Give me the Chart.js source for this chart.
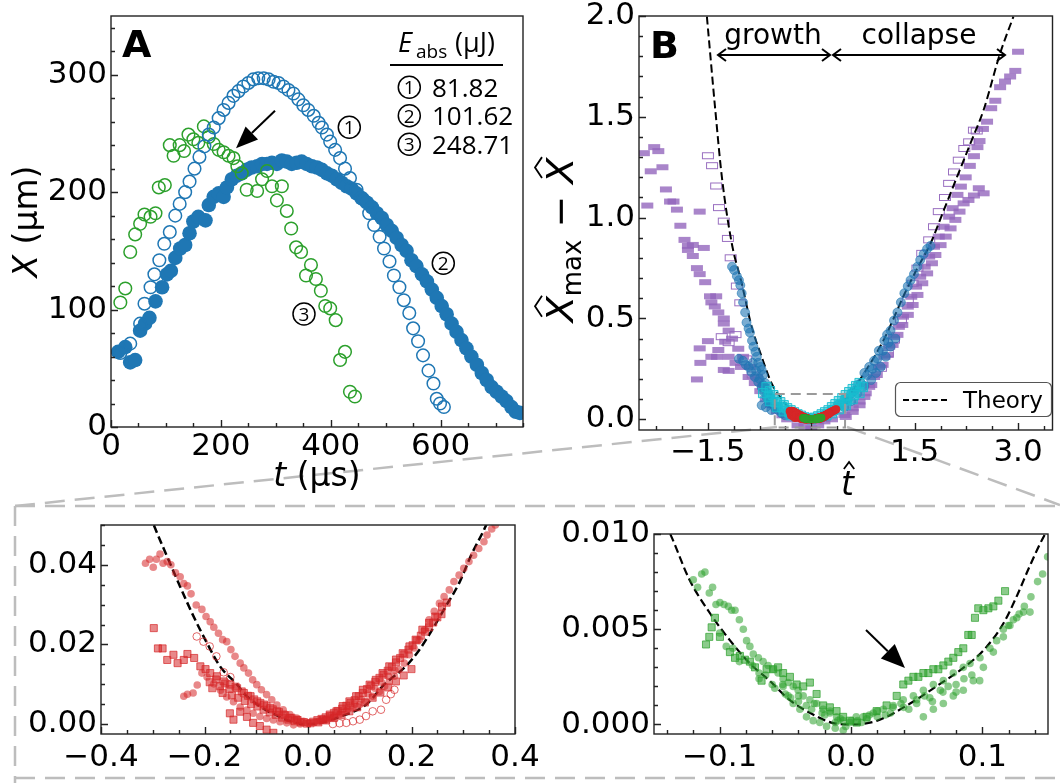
<!DOCTYPE html>
<html>
<head>
<meta charset="utf-8">
<script src="https://cdn.jsdelivr.net/npm/chart.js@4.4.1/dist/chart.umd.min.js"></script>
<style>
    body { margin: 0; background: #fff; }
    #fig { position: relative; width: 1060px; height: 783px; overflow: hidden; }
    #fig canvas { position: absolute; left: 0; top: 0; }
</style>
</head>
<body>
<div id="fig">
    <canvas id="bg" width="1060" height="783"></canvas>
    <canvas id="cA" width="1060" height="783"></canvas>
    <canvas id="cB" width="1060" height="783"></canvas>
    <canvas id="cC" width="1060" height="783"></canvas>
    <canvas id="cD" width="1060" height="783"></canvas>
</div>
<script>
// ---- Panel A: bubble radius X (um) vs time t (us) ----
const tA1 = [17,35,53,61,72,79,88,97,107,117,125,135,143,152,161,170,178,187,196,205,214,223,232,241,250,259,268,278,287,296,305,314,323,332,341,350,359,369,378,384,393,399,408,417,426,435,447,459,470,479,489,497,507,515,525,533,543,550,559,568,578,587,593,599,606];
const xA1 = [63,71,88,105,119,130,142,156,166,180,190,200,209,220,230,239,249,255,263,270,276,282,286,290,293,296,297,297,296,294,293,290,287,284,279,274,270,265,259,255,249,243,236,229,220,212,202,194,182,172,162,152,141,129,119,108,97,84,73,61,48,37,24,20,17];
const tA2 = [13,26,35,44,53,62,70,81,93,102,109,117,126,135,143,150,159,172,178,187,196,205,211,220,229,238,247,256,266,275,284,293,302,311,320,329,338,347,356,366,375,384,393,402,411,420,429,438,447,456,466,475,484,493,502,511,520,529,538,547,556,566,575,584,593,602,611,620,629,638,647,656,666,675,684,693,702,711,720,729,737,744];
const xA2 = [64,68,55,57,82,88,93,107,119,130,133,144,152,155,165,175,179,176,189,196,199,196,204,211,214,216,219,221,222,224,224,225,224,227,226,224,225,226,224,222,221,219,216,214,211,208,205,203,199,195,191,187,182,178,172,167,161,155,150,142,137,130,124,117,110,103,96,88,81,74,67,60,53,46,40,34,30,26,22,17,13,12];
const tA3 = [17,26,35,44,53,61,72,81,87,98,107,114,125,133,141,150,159,169,178,187,196,205,214,223,230,238,247,266,275,284,293,302,311,320,328,337,346,355,364,373,382,390,399,409,417,426,435,444];
const xA3 = [106,118,149,164,173,181,179,182,204,206,240,231,240,235,249,245,242,256,247,241,236,234,231,229,222,216,202,201,211,218,205,193,205,184,169,153,149,129,138,126,116,103,101,91,57,64,30,26];
const energies = ['81.82', '101.62', '248.71'];

const thT = [-1.515,-1.393,-1.298,-1.154,-1.01,-0.865,-0.72,-0.577,-0.45,-0.38,-0.298,-0.272,-0.247,-0.221,-0.195,-0.170,-0.137,-0.123,-0.107,-0.092,-0.077,-0.062,-0.047,-0.031,-0.015,0,0.02,0.045,0.065,0.086,0.101,0.116,0.126,0.136,0.147,0.189,0.215,0.240,0.266,0.292,0.317,0.343,0.50,0.77,1.06,1.35,1.54,1.731,1.924,2.116,2.31,2.50,2.74,2.933];
const thV = [1.997,1.534,1.203,0.873,0.675,0.459,0.31,0.179,0.11,0.078,0.050,0.042,0.0345,0.027,0.0203,0.0145,0.0099,0.0076,0.0058,0.0044,0.0032,0.0023,0.0013,0.0006,0.0001,0,0.0002,0.0011,0.0020,0.0030,0.0039,0.0053,0.0067,0.0083,0.0099,0.0145,0.0186,0.0237,0.0295,0.0354,0.0429,0.0496,0.10,0.23,0.40,0.62,0.75,0.873,1.038,1.203,1.369,1.534,1.815,1.997];

// ---- Panel B: normalised data ----
const pfT = [-2.43,-2.28,-2.22,-2.33,-2.16,-2.11,-2.05,-2.00,-1.95,-2.38,-1.62,-1.90,-1.84,-1.79,-1.72,-1.56,-1.79,-1.72,-1.66,-1.62,-1.54,-1.47,-1.38,-1.45,-1.40,-1.35,-1.27,-1.27,-1.20,-1.15,-1.06,-0.99,-0.89,-0.79,-0.70,-0.61,-0.51,-0.41,-0.29,
    -1.66,-1.61,-1.62,-1.50,-1.45,-1.37,-1.27,-1.20,-1.20,-1.35,-1.25,-1.10,-1.02,-0.91,-0.82,-0.74,-0.66,-0.58,-0.50,-0.42,-0.35,
    -0.2,-0.1,0.0,0.1,0.19,0.3,
    3.0,2.96,2.885,2.81,2.74,2.67,2.61,2.55,2.49,2.44,2.41,2.36,2.30,2.24,2.17,2.12,2.05,2.0,1.92,1.85,1.78,1.71,1.645,1.58,1.52,1.45,1.40,1.33,1.27,1.20,1.13,1.06,0.985,0.91,0.84,0.77,0.70,0.60,0.50,
    2.50,2.43,2.36,2.28,2.21,2.15,2.09,2.02,1.95,1.875,1.80,1.75,1.68,1.61,1.54,1.47,1.40,1.32,1.25,1.18,1.11,1.035,0.95,0.87,0.79,0.70,0.60,0.48];
const pfV = [1.32,1.35,1.33,1.23,1.25,1.14,1.08,1.08,1.04,1.06,1.03,0.96,0.89,0.86,0.865,0.85,0.84,0.81,0.75,0.72,0.68,0.61,0.61,0.58,0.56,0.53,0.50,0.475,0.44,0.40,0.35,0.31,0.26,0.21,0.16,0.11,0.07,0.04,0.015,
    0.198,0.28,0.352,0.388,0.31,0.31,0.245,0.24,0.31,0.344,0.385,0.28,0.26,0.21,0.18,0.14,0.10,0.07,0.04,0.02,0.0,
    -0.03,-0.035,-0.045,-0.03,-0.01,0.0,
    1.823,1.728,1.70,1.675,1.647,1.58,1.543,1.476,1.44,1.38,1.35,1.305,1.257,1.20,1.154,1.113,1.047,1.005,0.955,0.906,0.856,0.807,0.757,0.707,0.658,0.608,0.559,0.509,0.459,0.409,0.36,0.31,0.26,0.21,0.161,0.111,0.07,0.037,0.012,
    1.121,1.146,1.11,1.088,1.071,1.03,0.989,0.947,0.906,0.864,0.815,0.774,0.724,0.675,0.617,0.567,0.518,0.468,0.419,0.369,0.319,0.27,0.22,0.17,0.129,0.088,0.055,0.022];
const poT = [-1.50,-1.44,-1.38,-1.34,-1.27,-1.21,-1.17,-1.08,-1.03,-1.30,-1.20,-1.10,-0.95,-0.85,
    1.01,1.11,1.20,1.30,1.40,1.47,1.54,1.61,1.71,1.78,1.85,1.94,2.0,2.07,2.14,2.22,2.29,2.36,2.40];
const poV = [1.307,1.258,1.157,1.05,0.983,0.897,0.801,0.661,0.578,0.41,0.38,0.42,0.30,0.22,
    0.253,0.327,0.393,0.493,0.592,0.675,0.75,0.823,0.89,0.955,1.03,1.10,1.17,1.227,1.285,1.343,1.376,1.434,1.43];
const bcT = [-1.15,-1.12,-1.08,-1.05,-1.03,-1.01,-0.99,-0.96,-0.94,-0.91,-0.89,-0.86,-0.84,-0.81,-0.79,-0.77,-0.74,-0.72,-0.70,-0.67,-0.65,-0.62,-0.60,-0.58,-0.53,-0.48,-0.43,-0.38,
    -1.05,-0.99,-0.95,-0.91,-0.87,-0.82,-0.77,-0.72,-0.68,-0.65,-0.61,-0.58,-0.66,-0.72,
    0.19,0.29,0.38,0.48,0.58,0.67,0.77,0.84,0.91,0.98,1.06,1.10,1.15,1.20,1.25,1.30,1.35,1.40,1.44,1.49,1.54,1.58,1.63,1.68,1.73,
    0.48,0.58,0.67,0.77,0.87,0.94,1.01,1.08,1.15,1.22,
    0.33,0.43,0.53,0.62,0.72,0.81,0.89,0.96,1.04,1.12,-0.85,-0.80,-0.75,-0.70,-0.64,-0.56,-0.50];
const bcV = [0.757,0.74,0.71,0.69,0.665,0.625,0.58,0.53,0.48,0.45,0.43,0.39,0.36,0.335,0.31,0.28,0.26,0.245,0.22,0.18,0.155,0.13,0.105,0.08,0.06,0.046,0.03,0.02,
    0.30,0.29,0.27,0.26,0.235,0.21,0.185,0.16,0.135,0.11,0.08,0.046,0.06,0.07,
    0.013,0.04,0.07,0.10,0.13,0.17,0.23,0.26,0.29,0.34,0.39,0.42,0.44,0.49,0.53,0.58,0.625,0.66,0.69,0.72,0.757,0.79,0.82,0.845,0.86,
    0.06,0.09,0.13,0.165,0.195,0.23,0.26,0.31,0.36,0.40,
    0.04,0.07,0.10,0.14,0.18,0.22,0.25,0.30,0.34,0.38,0.28,0.24,0.20,0.17,0.13,0.09,0.06];
const cyT = [-0.65,-0.6,-0.55,-0.5,-0.45,-0.4,-0.35,-0.3,-0.25,-0.2,-0.15,-0.1,-0.05,0,0.05,0.1,0.15,0.2,0.25,0.3,0.35,0.4,0.45,0.5,0.55,0.6,0.65,0.7,
    -0.6,-0.5,-0.4,-0.3,0.3,0.4,0.5,0.6,0.7,
    -0.7,-0.62,-0.52,-0.42,-0.32,-0.22,0.22,0.32,0.42,0.52,0.62,0.75];
const cyV = [0.16,0.14,0.12,0.10,0.085,0.07,0.055,0.045,0.035,0.025,0.018,0.01,0.005,0.0,0.008,0.015,0.025,0.035,0.045,0.06,0.075,0.09,0.105,0.12,0.135,0.15,0.165,0.18,
    0.09,0.06,0.04,0.02,0.03,0.05,0.07,0.10,0.13,
    0.13,0.11,0.085,0.06,0.035,0.015,0.02,0.045,0.07,0.095,0.12,0.16];

// ---- Panel C: red subset (zoom) ----
const rcT = [-0.314,-0.306,-0.299,-0.293,-0.286,-0.280,-0.272,-0.265,-0.256,-0.247,-0.240,-0.233,-0.226,-0.216,-0.205,-0.197,-0.189,-0.182,-0.173,-0.165,-0.157,-0.149,-0.141,-0.131,-0.124,-0.115,-0.107,-0.099,-0.090,-0.080,-0.070,-0.060,-0.048,-0.035,-0.022,-0.009,0.003,0.022,0.035,0.048,0.061,0.074,0.087,0.100,0.112,0.125,0.138,0.148,0.157,0.167,0.176,0.186,0.196,0.205,0.215,0.225,0.234,0.244,0.254,0.263,0.273,0.282,0.292,0.301,0.311,0.320,0.330,0.340,0.346,0.355,0.362];
const rcV = [0.0404,0.0414,0.0394,0.0414,0.0427,0.0404,0.0408,0.0400,0.0380,0.0370,0.0353,0.0347,0.0327,0.0299,0.0288,0.0270,0.0257,0.0243,0.0228,0.0212,0.0207,0.0187,0.0170,0.0153,0.0141,0.0128,0.0111,0.0099,0.0086,0.0074,0.0061,0.0048,0.0036,0.0024,0.0015,0.0007,0.0003,0.0007,0.0011,0.0015,0.0024,0.0032,0.0040,0.0049,0.0057,0.0070,0.0082,0.0095,0.0107,0.0120,0.0137,0.0153,0.0174,0.0191,0.0212,0.0237,0.0262,0.0283,0.0303,0.0320,0.0337,0.0358,0.0374,0.0391,0.0408,0.0424,0.0441,0.0458,0.0475,0.0490,0.0500];
const rsT = [-0.298,-0.290,-0.281,-0.272,-0.260,-0.252,-0.240,-0.233,-0.220,-0.208,-0.198,-0.189,-0.176,-0.163,-0.150,-0.137,-0.124,-0.111,-0.098,-0.085,-0.073,-0.060,-0.047,-0.035,-0.022,
    -0.151,-0.144,-0.131,-0.118,-0.106,-0.093,-0.080,-0.067,
    0.029,0.042,0.055,0.067,0.080,0.093,0.106,0.119,0.131,0.144,0.157,0.170,0.183,0.196,0.208,0.221,0.234,0.246,0.259,0.268];
const rsV = [0.0241,0.0190,0.0190,0.0161,0.0174,0.0153,0.0161,0.0176,0.0166,0.0145,0.0138,0.0128,0.0120,0.0107,0.0099,0.0090,0.0078,0.0070,0.0057,0.0049,0.0040,0.0032,0.0024,0.0015,0.0011,
    0.0027,0.0011,0.0031,0.0018,0.0003,-0.0005,-0.0014,-0.0022,
    0.0011,0.0020,0.0032,0.0045,0.0057,0.0070,0.0086,0.0099,0.0111,0.0128,0.0145,0.0162,0.0178,0.0195,0.0212,0.0237,0.0254,0.0270,0.0295,0.0305];
const rlT = [-0.240,-0.233,-0.222,-0.214,-0.205,-0.195,-0.182,-0.169,-0.157,-0.144,-0.131,-0.118,-0.106,-0.093,-0.080,-0.067,-0.054,-0.041,-0.028,-0.015,0.000,0.012,0.025,0.038,0.051,0.064,0.077,0.090,0.103,0.116,0.129,0.142,0.155,0.168];
const rlV = [0.0070,0.0075,0.0078,0.0098,0.0128,0.0118,0.0101,0.0085,0.0068,0.0056,0.0043,0.0035,0.0027,0.0019,0.0014,0.0010,0.0006,0.0003,-0.0002,0.0000,0.0002,0.0004,0.0008,0.0013,0.0020,0.0028,0.0038,0.0050,0.0062,0.0076,0.0090,0.0105,0.0120,0.0135];
const rmT = [-0.190,-0.185,-0.178,-0.170,-0.165,-0.160,-0.152,-0.147,-0.140,-0.135,-0.128,-0.122,-0.116,-0.110,-0.104,-0.098,-0.092,-0.086,-0.080,-0.074,-0.068,-0.062,-0.056,-0.050,-0.044,-0.038,-0.032,-0.026,-0.020,-0.014,-0.008,-0.002,
    0.010,0.018,0.026,0.034,0.042,0.050,0.058,0.066,0.074,0.082,0.090,0.098,0.106,0.114,0.122,0.130,0.138,0.146,0.154,0.162,0.170,0.178,0.186,0.194,0.202,0.210,0.218,0.226,0.234,0.242,0.250,0.258,
    0.005,0.020,0.035,0.050,0.065,0.080,0.095,0.110,0.125,0.140,0.155,0.170,0.185,0.200];
const rmV = [0.0105,0.0090,0.0112,0.0095,0.0078,0.0102,0.0088,0.0072,0.0094,0.0066,0.0082,0.0058,0.0071,0.0050,0.0062,0.0044,0.0053,0.0036,0.0045,0.0029,0.0037,0.0023,0.0030,0.0016,0.0022,0.0011,0.0016,0.0007,0.0010,0.0004,0.0005,0.0001,
    0.0006,0.0010,0.0013,0.0017,0.0024,0.0028,0.0033,0.0039,0.0046,0.0053,0.0060,0.0070,0.0078,0.0088,0.0096,0.0106,0.0116,0.0124,0.0134,0.0143,0.0155,0.0166,0.0175,0.0187,0.0198,0.0210,0.0222,0.0232,0.0243,0.0255,0.0268,0.0276,
    0.0002,0.0004,0.0009,0.0015,0.0022,0.0032,0.0042,0.0054,0.0066,0.0079,0.0092,0.0107,0.0122,0.0138];
const roT = [-0.215,-0.202,-0.190,-0.177,-0.163,-0.150,0.048,0.061,0.074,0.087,0.100,0.112,0.125,0.141,0.151,0.160,0.167];
const roV = [0.0220,0.0207,0.0195,0.0170,0.0130,0.0118,0.0000,0.0002,0.0003,0.0007,0.0011,0.0020,0.0032,0.0036,0.0061,0.0075,0.0086];

// ---- Panel D: green subset (zoom) ----
const gcT = [-0.1201,-0.1168,-0.1137,-0.1112,-0.1079,-0.1054,-0.1028,-0.0998,-0.0967,-0.0934,-0.0909,-0.0883,-0.0850,-0.0820,-0.0795,-0.0770,-0.0744,-0.0705,-0.0669,-0.0631,-0.0593,-0.0555,-0.0517,-0.0478,-0.0440,-0.0402,-0.0364,-0.0313,-0.0262,-0.0212,-0.0161,-0.0110,-0.0059,-0.0008,
    0.0093,0.0170,0.0246,0.0322,0.0398,0.0475,0.0551,0.0627,0.0703,0.0779,0.0855,0.0906,0.0982,0.1058,0.1109,0.1160,0.1198,0.1236,0.1280,0.1320,0.1370,0.1421,0.1459,0.1497,
    -0.0517,-0.0478,-0.0440,-0.0389,-0.0339,-0.0288,-0.0237,-0.0186,-0.0120,-0.0059,0.0551,0.0627,0.0703,0.0779,0.0855,0.0931,0.1008,0.1084,0.1160,0.1210,0.1262,0.1313,0.1363,
    0.005,0.012,0.020,0.030,0.040,0.050,0.060,0.070,0.080,-0.070,-0.060,-0.050,-0.040,-0.030,-0.020,-0.010];
const gcV = [0.0076,0.0072,0.0079,0.0080,0.0069,0.0072,0.0063,0.0064,0.0063,0.0062,0.0060,0.0060,0.0055,0.0050,0.0044,0.0041,0.0037,0.0035,0.0033,0.0031,0.0029,0.0027,0.0024,0.0022,0.0020,0.0018,0.0015,0.0013,0.0011,0.0008,0.0006,0.0004,0.0002,0.0001,
    0.0004,0.0006,0.0008,0.0010,0.0013,0.0015,0.0018,0.0021,0.0023,0.0027,0.0030,0.0032,0.0035,0.0040,0.0044,0.0050,0.0052,0.0055,0.0058,0.0062,0.0067,0.0075,0.0079,0.0088,
    0.0020,0.0015,0.0011,0.0008,0.0004,0.0002,0.0001,-0.0001,-0.0002,-0.0003,0.0004,0.0008,0.0011,0.0015,0.0018,0.0023,0.0030,0.0038,0.0046,0.0052,0.0056,0.0059,0.0059,
    0.0002,0.0003,0.0004,0.0006,0.0009,0.0011,0.0014,0.0017,0.0021,0.0027,0.0021,0.0016,0.0012,0.0008,0.0005,0.0002];
const gmT = [-0.075,-0.070,-0.065,-0.058,-0.052,-0.046,-0.040,-0.034,-0.028,-0.022,-0.016,-0.012,-0.008,-0.004,0.000,0.004,0.008,0.014,0.020,0.026,0.032,0.038,0.044,0.050,0.056,0.062,0.068,0.074,0.080,0.086,0.092,0.098,-0.090,-0.085,-0.100,-0.095];
const gmV = [0.0031,0.0024,0.0026,0.0019,0.0021,0.0014,0.0015,0.0010,0.0011,0.0006,0.0007,0.0001,0.0003,-0.0001,0.0002,0.0004,0.0001,0.0005,0.0007,0.0005,0.0009,0.0011,0.0008,0.0013,0.0015,0.0012,0.0018,0.0020,0.0017,0.0024,0.0026,0.0023,0.0040,0.0033,0.0048,0.0041];
const gsT = [-0.1104,-0.1079,-0.1061,-0.1036,-0.0998,-0.0922,-0.0883,-0.0846,-0.0808,-0.0770,-0.0731,-0.0681,-0.0643,-0.0593,-0.0555,-0.0517,-0.0465,-0.0414,-0.0364,-0.0313,-0.0262,-0.0212,-0.0161,-0.0110,-0.0060,-0.0008,
    0.0043,0.0119,0.0195,0.0271,0.0348,0.0398,0.0437,0.0475,0.0513,0.0551,0.0589,0.0627,0.0665,0.0703,0.0741,0.0779,0.0817,0.0855,0.0893,0.0919,0.0944,0.0969,0.1008,0.1046,0.1084,0.1122,0.1173];
const gsV = [0.0042,0.0046,0.0051,0.0056,0.0046,0.0038,0.0035,0.0036,0.0034,0.0033,0.0030,0.0023,0.0029,0.0029,0.0030,0.0027,0.0025,0.0021,0.0020,0.0022,0.0016,0.0010,0.0009,0.0007,0.0004,0.0002,
    0.0001,0.0004,0.0007,0.0010,0.0015,0.0021,0.0023,0.0025,0.0025,0.0027,0.0027,0.0029,0.0029,0.0031,0.0033,0.0035,0.0038,0.0040,0.0047,0.0047,0.0056,0.0061,0.0060,0.0061,0.0062,0.0065,0.0070];

// ---- Tick values ----
const ticksAx = [0, 200, 400, 600], ticksAy = [0, 100, 200, 300];
const ticksBx = [-1.5, 0, 1.5, 3.0], ticksBy = [0, 0.5, 1.0, 1.5, 2.0];
const ticksCx = [-0.4, -0.2, 0, 0.2, 0.4], ticksCy = [0, 0.02, 0.04];
const ticksDx = [-0.1, 0, 0.1], ticksDy = [0, 0.005, 0.010];

const W = 1060, H = 783, YW = 95, XH = 45;
const DJ = '"DejaVu Sans", sans-serif';
const OS = '"Open Sans", "DejaVu Sans", sans-serif';
Chart.defaults.font.family = DJ;

const BLUE = '#1f77b4', GREEN = '#2ca02c';

function pts(xs, ys) {
    return xs.map((x, i) => ({ x: x, y: ys[i] }));
}

function fmt(v, dec) {
    return v.toFixed(dec).replace('-', '\u2212');
}

function rectMarker(w, h, fill, stroke) {
    const c = document.createElement('canvas');
    c.width = w + 2;
    c.height = h + 2;
    const g = c.getContext('2d');
    if (fill) { g.fillStyle = fill; g.fillRect(1, 1, w, h); }
    if (stroke) { g.strokeStyle = stroke; g.lineWidth = 1; g.strokeRect(1.5, 1.5, w - 1, h - 1); }
    return c;
}

function scatter(xs, ys, o) {
    return Object.assign({ data: pts(xs, ys), showLine: false, clip: 0, pointRadius: 4, pointBorderWidth: 0 }, o);
}

function theory(width) {
    return {
        data: pts(thT, thV), showLine: true, pointRadius: 0, borderColor: '#000', borderWidth: width,
        borderDash: [8, 4], cubicInterpolationMode: 'monotone', capBezierPoints: false, clip: 0, fill: false
    };
}

function txt(ctx, s, x, y, font, align) {
    ctx.font = font;
    ctx.textAlign = align || 'left';
    ctx.textBaseline = 'alphabetic';
    ctx.fillStyle = '#000';
    ctx.fillText(s, x, y);
}

// text runs drawn one after another, centred on cx
function richText(ctx, parts, cx, y) {
    let total = 0;
    parts.forEach(p => { ctx.font = p.f; p.w = ctx.measureText(p.t).width; total += p.w; });
    let x = cx - total / 2;
    parts.forEach(p => {
        txt(ctx, p.t, x, y + (p.dy || 0), p.f, 'left');
        if (p.hat) {
            ctx.beginPath();
            ctx.moveTo(x + p.w * 0.22, y - p.hat);
            ctx.lineTo(x + p.w * 0.62, y - p.hat - 7);
            ctx.lineTo(x + p.w * 1.02, y - p.hat);
            ctx.lineWidth = 1.8;
            ctx.strokeStyle = '#000';
            ctx.stroke();
        }
        x += p.w;
    });
}

function circled(ctx, n, cx, cy) {
    ctx.beginPath();
    ctx.arc(cx, cy, 11, 0, 2 * Math.PI);
    ctx.lineWidth = 1.5;
    ctx.strokeStyle = '#000';
    ctx.stroke();
    txt(ctx, n, cx, cy + 7, '19px ' + OS, 'center');
}

function arrow(ctx, x0, y0, x1, y1, len, half) {
    const a = Math.atan2(y1 - y0, x1 - x0);
    const bx = x1 - len * Math.cos(a), by = y1 - len * Math.sin(a);
    ctx.beginPath();
    ctx.moveTo(x0, y0);
    ctx.lineTo(bx, by);
    ctx.lineWidth = 2;
    ctx.strokeStyle = '#000';
    ctx.stroke();
    ctx.beginPath();
    ctx.moveTo(x1, y1);
    ctx.lineTo(bx + half * Math.sin(a), by - half * Math.cos(a));
    ctx.lineTo(bx - half * Math.sin(a), by + half * Math.cos(a));
    ctx.closePath();
    ctx.fillStyle = '#000';
    ctx.fill();
}

function doubleArrow(ctx, x0, x1, y) {
    ctx.beginPath();
    ctx.moveTo(x0, y); ctx.lineTo(x1, y);
    ctx.moveTo(x0 + 8, y - 6); ctx.lineTo(x0, y); ctx.lineTo(x0 + 8, y + 6);
    ctx.moveTo(x1 - 8, y - 6); ctx.lineTo(x1, y); ctx.lineTo(x1 - 8, y + 6);
    ctx.lineWidth = 2;
    ctx.strokeStyle = '#000';
    ctx.stroke();
}

function eachStep(min, max, step, fn) {
    const n0 = Math.ceil(min / step - 1e-6), n1 = Math.floor(max / step + 1e-6);
    for (let n = n0; n <= n1; n++) fn(n * step);
}

function makeChart(id, spec) {
    const decor = {
        id: 'decor',
        afterDraw(chart) {
            const ctx = chart.ctx, a = chart.chartArea;
            const sx = chart.scales.x, sy = chart.scales.y;
            ctx.save();
            ctx.strokeStyle = '#222';
            ctx.lineWidth = 1.4;
            ctx.setLineDash([]);
            ctx.beginPath();
            eachStep(sx.min, sx.max, spec.xMinor, v => {
                const major = spec.xTicks.some(t => Math.abs(t - v) < spec.xMinor * 1e-3);
                const px = Math.round(sx.getPixelForValue(v)) + 0.5;
                ctx.moveTo(px, a.bottom);
                ctx.lineTo(px, a.bottom - (major ? 7 : 4));
            });
            eachStep(sy.min, sy.max, spec.yMinor, v => {
                const major = spec.yTicks.some(t => Math.abs(t - v) < spec.yMinor * 1e-3);
                const py = Math.round(sy.getPixelForValue(v)) + 0.5;
                ctx.moveTo(a.left, py);
                ctx.lineTo(a.left + (major ? 7 : 4), py);
            });
            ctx.stroke();
            ctx.strokeRect(a.left, a.top, a.right - a.left, a.bottom - a.top);
            if (spec.draw) spec.draw(chart, ctx);
            ctx.restore();
        }
    };
    const tickFont = { family: DJ, size: 31 };
    return new Chart(document.getElementById(id), {
        type: 'scatter',
        data: { datasets: spec.datasets },
        options: {
            responsive: false,
            animation: false,
            events: [],
            layout: {
                padding: { left: spec.area[0] - YW, top: spec.area[1], right: W - spec.area[2], bottom: H - spec.area[3] - XH }
            },
            plugins: { legend: { display: false }, tooltip: { enabled: false } },
            scales: {
                x: {
                    type: 'linear', min: spec.x[0], max: spec.x[1],
                    grid: { display: false, drawTicks: false }, border: { display: false },
                    afterBuildTicks: s => { s.ticks = spec.xTicks.map(v => ({ value: v })); },
                    afterFit: s => { s.height = XH; s.paddingLeft = 0; s.paddingRight = 0; },
                    ticks: { font: tickFont, color: '#000', padding: spec.xPad, maxRotation: 0, autoSkip: false, callback: v => fmt(v, spec.xDec) }
                },
                y: {
                    type: 'linear', min: spec.y[0], max: spec.y[1],
                    grid: { display: false, drawTicks: false }, border: { display: false },
                    afterBuildTicks: s => { s.ticks = spec.yTicks.map(v => ({ value: v })); },
                    afterFit: s => { s.width = YW; s.paddingTop = 0; s.paddingBottom = 0; },
                    ticks: { font: tickFont, color: '#000', padding: 4, autoSkip: false, callback: v => fmt(v, spec.yDec) }
                }
            }
        },
        plugins: [decor]
    });
}

// ---- dashed grey connectors behind the panels ----
(function () {
    const ctx = document.getElementById('bg').getContext('2d');
    ctx.strokeStyle = '#bdbdbd';
    ctx.lineWidth = 2.5;
    ctx.setLineDash([20, 10]);
    const segs = [[15, 506, 1060, 506], [15, 506, 15, 783], [15, 778, 1060, 778], [15, 506, 777, 427], [847, 427, 1060, 505]];
    segs.forEach(s => { ctx.beginPath(); ctx.moveTo(s[0], s[1]); ctx.lineTo(s[2], s[3]); ctx.stroke(); });
})();

// ---- Panel A ----
makeChart('cA', {
    area: [111, 16, 523, 427], x: [0, 750], y: [0, 350],
    xTicks: ticksAx, yTicks: ticksAy, xMinor: 50, yMinor: 20, xDec: 0, yDec: 0, xPad: 1,
    datasets: [
        scatter(tA1, xA1, { pointRadius: 6.3, pointBackgroundColor: 'rgba(0,0,0,0)', pointBorderColor: BLUE, pointBorderWidth: 1.5 }),
        scatter(tA3, xA3, { pointRadius: 6.3, pointBackgroundColor: 'rgba(0,0,0,0)', pointBorderColor: GREEN, pointBorderWidth: 1.5 }),
        scatter(tA2, xA2, { pointRadius: 7.3, pointBackgroundColor: BLUE, pointBorderColor: BLUE, pointBorderWidth: 0 })
    ],
    draw: (chart, ctx) => {
        txt(ctx, 'A', 122, 57, 'bold 38px ' + DJ);
        txt(ctx, 'E', 398, 52, 'italic 27px ' + OS);
        txt(ctx, 'abs', 416, 58, '19px ' + OS);
        txt(ctx, '(\u03bcJ)', 455, 52, '27px ' + OS);
        ctx.beginPath();
        ctx.moveTo(390, 65); ctx.lineTo(503, 65);
        ctx.lineWidth = 2; ctx.strokeStyle = '#000'; ctx.stroke();
        energies.forEach((e, i) => {
            const cy = 87.3 + i * 28.5;
            circled(ctx, String(i + 1), 409.3, cy);
            txt(ctx, e, 432, cy + 9.3, '26px ' + OS);
        });
        circled(ctx, '1', 349.3, 127.3);
        circled(ctx, '2', 443.3, 263.3);
        circled(ctx, '3', 304, 314);
        arrow(ctx, 275, 110.7, 236, 148.3, 22, 9);
        // axis titles
        ctx.save();
        ctx.translate(37, 221.5);
        ctx.rotate(-Math.PI / 2);
        richText(ctx, [{ t: 'X', f: 'italic 33px ' + DJ }, { t: ' (\u03bcm)', f: '33px ' + DJ }], 0, 0);
        ctx.restore();
        richText(ctx, [{ t: 't', f: 'italic 33px ' + DJ }, { t: ' (\u03bcs)', f: '33px ' + DJ }], 317, 486);
    }
});

// ---- Panel B ----
const purpleFill = rectMarker(12, 6, 'rgba(148,103,189,0.8)', null);
const purpleOpen = rectMarker(12, 7, null, 'rgba(148,103,189,0.95)');
makeChart('cB', {
    area: [639, 16, 1056, 430], x: [-2.5, 3.5], y: [-0.053, 2.0],
    xTicks: ticksBx, yTicks: ticksBy, xMinor: 0.375, yMinor: 0.1, xDec: 1, yDec: 1, xPad: 4,
    datasets: [
        scatter(gcT.concat(gsT, gmT), gcV.concat(gsV, gmV), { pointRadius: 3.8, pointBackgroundColor: 'rgba(44,160,44,0.95)' }),
        scatter(rcT.concat(rsT, rlT, roT, rmT), rcV.concat(rsV, rlV, roV, rmV), { pointRadius: 4, pointBackgroundColor: 'rgba(214,39,40,0.95)' }),
        scatter(cyT, cyV, { pointStyle: 'rect', pointRadius: 6.5, pointBackgroundColor: 'rgba(23,190,207,0.4)', pointBorderColor: 'rgba(23,190,207,0.9)', pointBorderWidth: 1 }),
        scatter(bcT, bcV, { pointRadius: 4.5, pointBackgroundColor: 'rgba(31,119,180,0.6)', pointBorderColor: 'rgba(31,119,180,0.7)', pointBorderWidth: 0.8 }),
        theory(2),
        scatter(poT, poV, { pointStyle: purpleOpen, pointRadius: 5 }),
        scatter(pfT, pfV, { pointStyle: purpleFill, pointRadius: 5 })
    ],
    draw: (chart, ctx) => {
        const sx = chart.scales.x, sy = chart.scales.y;
        // zoom window
        ctx.save();
        ctx.setLineDash([10, 6]);
        ctx.strokeStyle = '#9a9a9a';
        ctx.lineWidth = 2;
        const x0 = sx.getPixelForValue(-0.53), x1 = sx.getPixelForValue(0.49);
        const y0 = sy.getPixelForValue(0.125), y1 = sy.getPixelForValue(-0.04);
        ctx.strokeRect(x0, y0, x1 - x0, y1 - y0);
        ctx.restore();
        txt(ctx, 'B', 650, 58, 'bold 38px ' + DJ);
        txt(ctx, 'growth', 773, 44, '28px ' + DJ, 'center');
        txt(ctx, 'collapse', 919, 44, '28px ' + DJ, 'center');
        doubleArrow(ctx, 718, 830, 55);
        doubleArrow(ctx, 833, 1005, 55);
        // legend
        ctx.beginPath();
        ctx.roundRect(895.5, 382.5, 156, 34, 5);
        ctx.fillStyle = 'rgba(255,255,255,0.9)';
        ctx.fill();
        ctx.lineWidth = 1.2;
        ctx.strokeStyle = '#555';
        ctx.stroke();
        ctx.beginPath();
        ctx.setLineDash([6, 3.5]);
        ctx.moveTo(903, 400); ctx.lineTo(948, 400);
        ctx.lineWidth = 2; ctx.strokeStyle = '#000'; ctx.stroke();
        ctx.setLineDash([]);
        txt(ctx, 'Theory', 963, 407.5, '23px ' + DJ);
        // axis titles
        ctx.save();
        ctx.translate(573, 240);
        ctx.rotate(-Math.PI / 2);
        richText(ctx, [
            { t: 'X', f: 'italic 38px ' + DJ, hat: 31 },
            { t: 'max', f: '26px ' + DJ, dy: 8 },
            { t: ' \u2212 ', f: '38px ' + DJ },
            { t: 'X', f: 'italic 38px ' + DJ, hat: 31 }
        ], 0, 0);
        ctx.restore();
        richText(ctx, [{ t: 't', f: 'italic 33px ' + DJ, hat: 26 }], 847.5, 495);
    }
});

// ---- Panel C ----
const RED_F = 'rgba(214,39,40,0.55)';
makeChart('cC', {
    area: [101, 525, 515, 734], x: [-0.4, 0.4], y: [-0.0025, 0.05],
    xTicks: ticksCx, yTicks: ticksCy, xMinor: 0.05, yMinor: 0.005, xDec: 1, yDec: 2, xPad: 5,
    datasets: [
        scatter(roT, roV, { pointRadius: 3.8, pointBackgroundColor: 'rgba(0,0,0,0)', pointBorderColor: 'rgba(214,39,40,0.7)', pointBorderWidth: 1 }),
        scatter(rlT, rlV, { pointRadius: 3.8, pointBackgroundColor: RED_F }),
        scatter(rmT, rmV, { pointStyle: 'rect', pointRadius: 5, pointBackgroundColor: RED_F, pointBorderColor: 'rgba(214,39,40,0.6)', pointBorderWidth: 1 }),
        scatter(rsT, rsV, { pointStyle: 'rect', pointRadius: 5, pointBackgroundColor: RED_F, pointBorderColor: 'rgba(214,39,40,0.7)', pointBorderWidth: 1 }),
        scatter(rcT, rcV, { pointRadius: 3.8, pointBackgroundColor: RED_F }),
        theory(2.5)
    ]
});

// ---- Panel D ----
const GREEN_F = 'rgba(44,160,44,0.55)';
makeChart('cD', {
    area: [654, 534, 1048, 734], x: [-0.15, 0.15], y: [-0.0005, 0.010],
    xTicks: ticksDx, yTicks: ticksDy, xMinor: 0.02, yMinor: 0.001, xDec: 1, yDec: 3, xPad: 5,
    datasets: [
        scatter(gsT, gsV, { pointStyle: 'rect', pointRadius: 5, pointBackgroundColor: GREEN_F, pointBorderColor: 'rgba(44,160,44,0.7)', pointBorderWidth: 1 }),
        scatter(gmT, gmV, { pointRadius: 3.8, pointBackgroundColor: GREEN_F }),
        scatter(gcT, gcV, { pointRadius: 3.8, pointBackgroundColor: GREEN_F }),
        theory(2.2)
    ],
    draw: (chart, ctx) => {
        arrow(ctx, 866, 630, 905, 668, 24, 10);
    }
});
</script>
</body>
</html>
